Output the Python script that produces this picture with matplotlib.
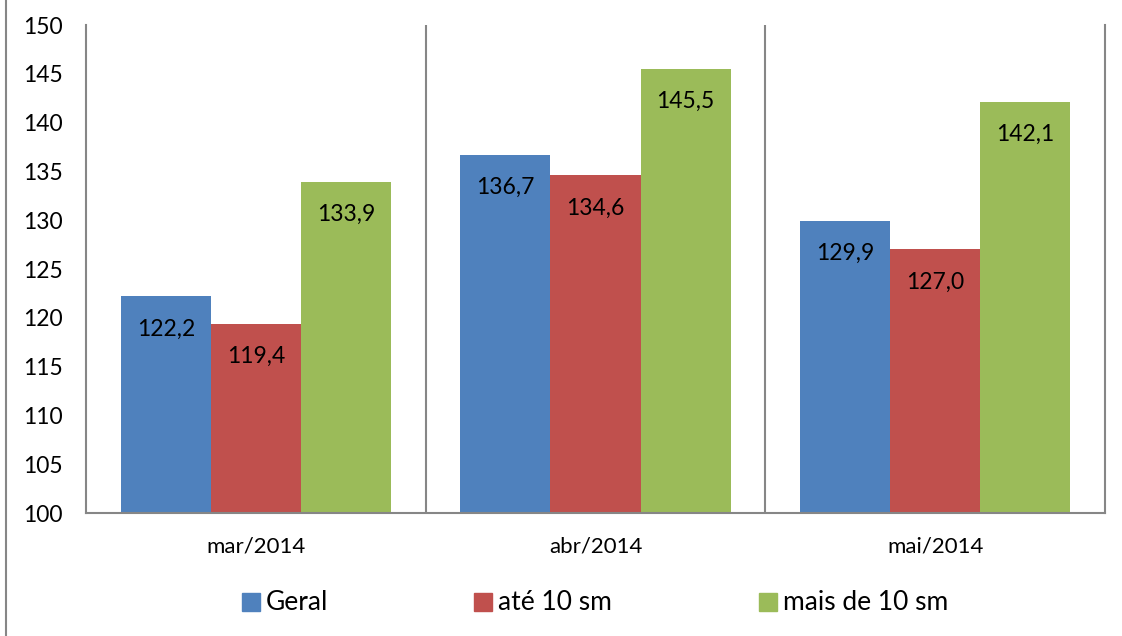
import matplotlib
matplotlib.use("Agg")
import matplotlib.pyplot as plt
from matplotlib.patches import Rectangle
from matplotlib.lines import Line2D
import numpy as np

categories = ["mar/2014", "abr/2014", "mai/2014"]
series_names = ["Geral", "até 10 sm", "mais de 10 sm"]
geral = [122.2, 136.7, 129.9]
ate10 = [119.4, 134.6, 127.0]
mais10 = [133.9, 145.5, 142.1]
colors = ["#4F81BD", "#C0504D", "#9BBB59"]
yticks = [100, 105, 110, 115, 120, 125, 130, 135, 140, 145, 150]

plt.rcParams['font.family'] = ['Lato', 'DejaVu Sans']

W, H = 1122, 636
fig = plt.figure(figsize=(W / 100, H / 100), dpi=100)
ax = fig.add_axes([86 / W, (H - 513) / H, (1105 - 86) / W, (513 - 25) / H])

x = np.arange(len(categories))
bw = 0.265
series = [geral, ate10, mais10]
for i, (vals, c) in enumerate(zip(series, colors)):
    pos = x + (i - 1) * bw
    ax.bar(pos, vals, width=bw, color=c, zorder=2)
    for p, v in zip(pos, vals):
        ax.annotate(f"{v:.1f}".replace(".", ","), (p, v), xytext=(0, -23.5),
                    textcoords="offset points", ha="center", va="center",
                    fontsize=16.5, color="black", zorder=3)

ax.set_xlim(-0.5, 2.5)
ax.set_ylim(100, 150)
ax.set_yticks(yticks)
ax.set_xticks(x)
ax.set_xticklabels(categories, fontsize=16)
ax.tick_params(axis="y", length=0, pad=17, labelsize=16.5)
ax.tick_params(axis="x", length=0, pad=17)
for s in ["left", "bottom", "right"]:
    ax.spines[s].set_color("#868686")
    ax.spines[s].set_linewidth(1.5)
ax.spines["top"].set_visible(False)
for sep in [0.5, 1.5]:
    ax.axvline(sep, color="#868686", linewidth=1.5, zorder=1)

# figure left border
fig.add_artist(Line2D([6 / W, 6 / W], [0, 1], transform=fig.transFigure,
                      color="#868686", linewidth=1.5))

# legend
leg_x = [242, 474, 759]
for lx, name, c in zip(leg_x, series_names, colors):
    fig.add_artist(Rectangle((lx / W, (H - 611) / H), 18 / W, 18 / H,
                             transform=fig.transFigure, color=c))
    fig.text((lx + 24) / W, (H - 603) / H, name, fontsize=19,
             va="center", ha="left")

fig.savefig("out.png", dpi=100)
